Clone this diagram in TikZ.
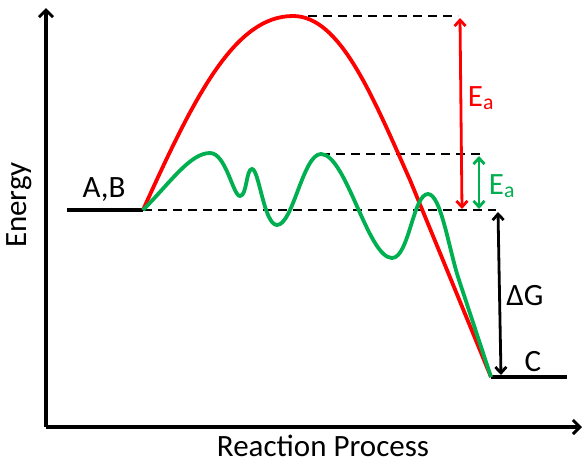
\documentclass[tikz,border=0pt]{standalone}
\usepackage{fontspec}
\setmainfont{Carlito}
\usetikzlibrary{arrows.meta}
\definecolor{ored}{RGB}{255,0,0}
\definecolor{ogreen}{RGB}{0,176,80}
\begin{document}
\begin{tikzpicture}[x=1pt,y=-1pt,
  axis/.style={line width=4pt,-{Straight Barb[length=7pt,width=14pt,line width=3pt]}},
  level/.style={line width=4pt},
  curve/.style={line width=3.8pt},
  guide/.style={line width=2.2pt,dash pattern=on 9pt off 6pt},
  dim/.style={line width=2.8pt,{Straight Barb[length=6pt,width=11pt]}-{Straight Barb[length=6pt,width=11pt]}},
  lbl/.style={font=\fontsize{31}{36}\selectfont,inner sep=0pt}]
\useasboundingbox (0,0) rectangle (584,464);
% coordinates
\coordinate (origin) at (46,427);
\coordinate (ytip) at (46,8);
\coordinate (xtip) at (582,427);
\coordinate (abL) at (67,210);
\coordinate (abR) at (143,210);
\coordinate (cL) at (491,377);
\coordinate (cR) at (567,377);
\coordinate (redtop) at (293,16);
\coordinate (greentop) at (321,154);
\coordinate (dashTopEnd) at (458,16);
\coordinate (dashMidEnd) at (481,154);
\coordinate (dashLowEnd) at (496,210);
% axes
\draw[axis] (origin) -- (ytip);
\draw[axis] (origin) -- (xtip);
% levels
\draw[level] (abL) -- (abR);
\draw[level] (cL) -- (cR);
% guides
\draw[guide] (redtop) -- (dashTopEnd);
\draw[guide] (greentop) -- (dashMidEnd);
\draw[guide] (abR) -- (dashLowEnd);
% red curve
\draw[curve,ored] (abR) .. controls (195,95) and (235,16) .. (redtop)
  .. controls (340,16) and (372,95) .. (410,180) -- (cL);
% green curve
\draw[curve,ogreen] (abR) .. controls (170,183) and (190,153) .. (210,153)
  .. controls (226,153) and (233,196) .. (240,196)
  .. controls (247,196) and (246,169) .. (252,169)
  .. controls (259,169) and (264,225) .. (277,225)
  .. controls (293,225) and (303,154) .. (greentop)
  .. controls (346,154) and (368,258) .. (392,258)
  .. controls (409,258) and (413,194) .. (428,194)
  .. controls (441,194) and (449,250) .. (459,280) -- (cL);
% dimension arrows
\coordinate (raT) at (460,18);
\coordinate (raB) at (462,209);
\coordinate (gaT) at (479,156);
\coordinate (gaB) at (479,209);
\coordinate (dgT) at (498,212);
\coordinate (dgB) at (501,375);
\draw[dim,ored] (raT) -- (raB);
\draw[dim,ogreen] (gaT) -- (gaB);
\draw[dim,black] (dgT) -- (dgB);
% labels
\node[lbl,ored] (eared) at (481,98) {E\textsubscript{a}};
\node[lbl,ogreen] (eagreen) at (502,186) {E\textsubscript{a}};
\node[lbl] (dg) at (525,296) {ΔG};
\node[lbl] (ab) at (104,190) {A,B};
\node[lbl] (c) at (533,362) {C};
\node[lbl,rotate=90] (energy) at (19,205) {Energy};
\node[lbl] (rp) at (323,446) {Reaction Process};
\end{tikzpicture}
\end{document}
